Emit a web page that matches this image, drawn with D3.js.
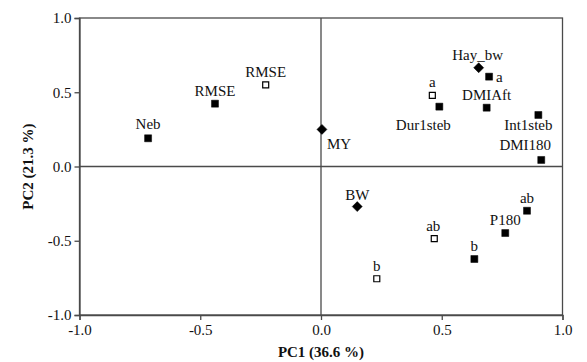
<!DOCTYPE html>
<html>
<head>
<meta charset="utf-8">
<script src="https://cdn.jsdelivr.net/npm/d3@7"></script>
<style>
  html, body { margin: 0; padding: 0; background: #fff; }
  svg { display: block; }
  svg text { font-family: 'Liberation Serif', 'Times New Roman', serif; }
</style>
</head>
<body>
<div id="chart"></div>
<script>
// PCA loadings
const labels = ['Neb', 'RMSE', 'RMSE', 'MY', 'Hay_bw', 'a', 'a', 'Dur1steb', 'DMIAft',
                'Int1steb', 'DMI180', 'BW', 'ab', 'b', 'b', 'P180', 'ab'];
const pc1 = [-0.716, -0.439, -0.229, 0.004, 0.653, 0.696, 0.461, 0.490, 0.686,
             0.900, 0.912, 0.150, 0.469, 0.231, 0.635, 0.763, 0.853];
const pc2 = [0.190, 0.423, 0.549, 0.250, 0.665, 0.605, 0.479, 0.403, 0.396,
             0.347, 0.044, -0.270, -0.486, -0.756, -0.623, -0.448, -0.298];
const kinds = ['filled', 'filled', 'open', 'diamond', 'diamond', 'filled', 'open', 'filled', 'filled',
               'filled', 'filled', 'diamond', 'open', 'open', 'filled', 'filled', 'filled'];
const ticks = [-1.0, -0.5, 0.0, 0.5, 1.0];

// label placement relative to the marker: [dx, dy, anchor]
const labelPos = [
  [0, -9, 'middle'], [0, -8, 'middle'], [0, -8, 'middle'], [5, 20, 'start'],
  [-1, -8, 'middle'], [7, 5, 'start'], [0, -8, 'middle'], [-16, 23, 'middle'],
  [0, -8, 'middle'], [-10, 15, 'middle'], [-16, -10, 'middle'], [0, -7, 'middle'],
  [-1, -8, 'middle'], [0, -8, 'middle'], [0, -8, 'middle'], [0, -8, 'middle'], [0, -8, 'middle']
];

const width = 587, height = 362;
const margin = {top: 18, right: 24.5, bottom: 47, left: 79.5};
const font = "'Liberation Serif', 'Times New Roman', serif";
const lineColor = '#4a4a4a';

const svg = d3.select('#chart').append('svg')
    .attr('width', width)
    .attr('height', height)
    .attr('font-family', font);

const x = d3.scaleLinear().domain([-1, 1]).range([margin.left, width - margin.right]);
const y = d3.scaleLinear().domain([-1, 1]).range([height - margin.bottom, margin.top]);

// frame
svg.append('rect')
    .attr('x', x(-1)).attr('y', y(1))
    .attr('width', x(1) - x(-1)).attr('height', y(-1) - y(1))
    .style('fill', 'none').style('stroke', lineColor).style('stroke-width', 1.3);

// zero lines
svg.append('line')
    .attr('x1', x(0)).attr('x2', x(0)).attr('y1', y(1)).attr('y2', y(-1))
    .style('stroke', lineColor).style('stroke-width', 1.3);
svg.append('line')
    .attr('x1', x(-1)).attr('x2', x(1)).attr('y1', y(0)).attr('y2', y(0))
    .style('stroke', lineColor).style('stroke-width', 1.3);

// axes (plain hyphen for negatives, as in the original)
const fmt = d => d3.format('.1f')(d).replace('\u2212', '-');
const xAxis = svg.append('g')
    .attr('transform', `translate(0,${y(-1)})`)
    .call(d3.axisBottom(x).tickValues(ticks).tickFormat(fmt).tickSize(5).tickPadding(4));
const yAxis = svg.append('g')
    .attr('transform', `translate(${x(-1)},0)`)
    .call(d3.axisLeft(y).tickValues(ticks).tickFormat(fmt).tickSize(5).tickPadding(3));

[xAxis, yAxis].forEach(ax => {
    ax.attr('font-family', font).attr('font-size', 15);
    ax.select('.domain').style('stroke', lineColor).style('stroke-width', 1.3);
    ax.selectAll('.tick line').style('stroke', lineColor).style('stroke-width', 1.3);
    ax.selectAll('.tick text')
        .attr('font-family', font)
        .style('fill', '#111');
});

// markers
const pts = labels.map((l, i) => ({label: l, x: pc1[i], y: pc2[i], kind: kinds[i], pos: labelPos[i]}));

const sq = 7, sqOpen = 6, dia = 5;
const g = svg.append('g');
g.selectAll('.mark')
    .data(pts)
    .enter()
    .append('path')
    .attr('class', 'mark')
    .attr('transform', d => `translate(${x(d.x)},${y(d.y)})`)
    .attr('d', d => {
        if (d.kind === 'diamond') return `M0,${-dia}L${dia},0L0,${dia}L${-dia},0Z`;
        const s = d.kind === 'open' ? sqOpen / 2 : sq / 2;
        return `M${-s},${-s}H${s}V${s}H${-s}Z`;
    })
    .style('fill', d => d.kind === 'open' ? '#fff' : '#000')
    .style('stroke', '#000')
    .style('stroke-width', d => d.kind === 'open' ? 1.2 : 0.5);

// point labels
g.selectAll('.lbl')
    .data(pts)
    .enter()
    .append('text')
    .attr('class', 'lbl')
    .attr('x', d => x(d.x) + d.pos[0])
    .attr('y', d => y(d.y) + d.pos[1])
    .attr('text-anchor', d => d.pos[2])
    .attr('font-family', font)
    .style('font-size', '15px')
    .style('fill', '#111')
    .text(d => d.label);

// axis titles
svg.append('text')
    .attr('x', x(0))
    .attr('y', 357)
    .attr('text-anchor', 'middle')
    .style('font-size', '15px')
    .style('font-weight', 'bold')
    .style('fill', '#111')
    .text('PC1 (36.6 %)');

svg.append('text')
    .attr('transform', `translate(33,${y(0)}) rotate(-90)`)
    .attr('text-anchor', 'middle')
    .style('font-size', '15px')
    .style('font-weight', 'bold')
    .style('fill', '#111')
    .text('PC2 (21.3 %)');
</script>
</body>
</html>
